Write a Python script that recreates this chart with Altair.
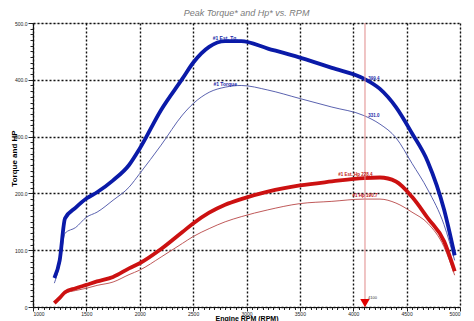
import altair as alt
import pandas as pd

rpm = [1200, 1250, 1300, 1400, 1500, 1600, 1750, 1900, 2000, 2200, 2400, 2500,
       2650, 2800, 2950, 3200, 3500, 3800, 4100, 4250, 4400, 4550, 4700, 4850, 4950]
est_tq = [51, 82, 156, 175, 191, 202, 223, 250, 279, 347, 402, 430,
          458, 468, 468, 455, 439, 421, 402, 384, 352, 306, 255, 172, 91]
torque = [42, 75, 130, 140, 158, 167, 188, 211, 235, 285, 338, 358,
          378, 387, 390, 382, 367, 352, 337, 322, 298, 253, 206, 145, 82]
est_hp = [7, 16, 26, 33, 39, 45, 53, 68, 77, 102, 132, 147,
          166, 180, 190, 203, 214, 221, 227, 228, 221, 194, 156, 116, 63]
hp = [9, 14, 24, 29, 33, 38, 44, 57, 65, 88, 112, 124,
      138, 150, 159, 171, 182, 186, 190, 190, 183, 167, 147, 106, 56]

series_names = ["#1 Torque", "#1 Hp", "#1 Est. Tq.", "#1 Est. Hp"]
series_colors = ["#5b63b0", "#c05a5a", "#0a1aa8", "#cc1111"]
series_widths = [1.0, 1.0, 3.8, 3.8]

cursor_rpm = 4110
cursor_label = "4100"

blue_labels = ["#1 Est. Tq.", "#1 Torque", "399.4", "331.0"]
blue_x = [2800, 2800, 4140, 4140]
blue_y = [474, 393, 402, 337]
blue_align = ["center", "center", "left", "left"]

red_labels = ["#1 Est. Hp 228.4", "#1 Hp 190.7"]
red_x = [4020, 4110]
red_y = [233, 196]

x_scale = alt.Scale(domain=[1000, 5000], nice=False, zero=False)
y_scale = alt.Scale(domain=[0, 500], nice=False)

grid_x = {"condition": {"test": "datum.value % 500 === 0", "value": 1}, "value": 0}
grid_y = {"condition": {"test": "datum.value % 100 === 0", "value": 1}, "value": 0}
tick_x = {"condition": {"test": "datum.value % 500 === 0", "value": 4}, "value": 2.5}
tick_y = {"condition": {"test": "datum.value % 100 === 0", "value": 5}, "value": 3}

x_axis = alt.Axis(
    title="Engine RPM (RPM)", values=list(range(1000, 5001, 50)), tickCount=1000,
    labelExpr="datum.value % 500 === 0 ? format(datum.value, 'd') : ''",
    labelFontSize=5, labelFont="Liberation Sans", labelColor="#222",
    titleFontSize=7, titleFontWeight="bold", titleFont="Liberation Sans",
    titleY=13.5, titleBaseline="alphabetic", tickSize=tick_x, tickColor="#222", labelPadding=0,
    domainColor="#111", domainWidth=1.2, gridOpacity=grid_x,
    gridColor="#111", gridDash=[2, 2], gridWidth=1.4, labelOverlap=False,
)
y_axis = alt.Axis(
    title="Torque and HP", values=list(range(0, 501, 10)), tickCount=1000,
    labelExpr="datum.value % 100 === 0 ? (datum.value === 0 ? '0' : format(datum.value, '.1f')) : ''",
    labelFontSize=5, labelFont="Liberation Sans", labelColor="#222",
    titleFontSize=8, titleFontWeight="bold", titleFont="Liberation Sans",
    titleX=-15, titleY=135, tickSize=tick_y, tickColor="#222", labelPadding=1,
    domainColor="#111", domainWidth=1.2, gridOpacity=grid_y,
    gridColor="#111", gridDash=[2, 2], gridWidth=1.4, labelOverlap=False,
)

layers = []
first = True
for name, vals, col, w in zip(series_names, [torque, hp, est_tq, est_hp], series_colors, series_widths):
    d = pd.DataFrame({"rpm": rpm, "value": vals, "series": name})
    if first:
        xe = alt.X("rpm:Q", scale=x_scale, axis=x_axis)
        ye = alt.Y("value:Q", scale=y_scale, axis=y_axis)
    else:
        xe = alt.X("rpm:Q", scale=x_scale)
        ye = alt.Y("value:Q", scale=y_scale)
    layers.append(
        alt.Chart(d).mark_line(interpolate="monotone", color=col, strokeWidth=w).encode(x=xe, y=ye)
    )
    first = False

cursor_df = pd.DataFrame({"rpm": [cursor_rpm], "y0": [0], "y1": [500], "tri": [7], "ly": [16], "lab": [cursor_label]})
rule = alt.Chart(cursor_df).mark_rule(color="#e08a8a", strokeWidth=1).encode(
    x=alt.X("rpm:Q", scale=x_scale), y=alt.Y("y0:Q", scale=y_scale), y2="y1:Q"
)
tri = alt.Chart(cursor_df).mark_point(shape="triangle-down", filled=True, color="#e00000", size=90, opacity=1).encode(
    x=alt.X("rpm:Q", scale=x_scale), y=alt.Y("tri:Q", scale=y_scale)
)
tri_lab = alt.Chart(cursor_df).mark_text(fontSize=4, color="#333", align="left", dx=3, font="Liberation Sans").encode(
    x=alt.X("rpm:Q", scale=x_scale), y=alt.Y("ly:Q", scale=y_scale), text="lab:N"
)

bl_df = pd.DataFrame({"x": blue_x, "y": blue_y, "t": blue_labels, "a": blue_align})
bl_c = alt.Chart(bl_df[bl_df.a == "center"]).mark_text(fontSize=5, fontWeight="bold", color="#1a2aa8", font="Liberation Sans").encode(
    x=alt.X("x:Q", scale=x_scale), y=alt.Y("y:Q", scale=y_scale), text="t:N"
)
bl_l = alt.Chart(bl_df[bl_df.a == "left"]).mark_text(fontSize=4.5, fontWeight="bold", color="#1a2aa8", align="left", font="Liberation Sans").encode(
    x=alt.X("x:Q", scale=x_scale), y=alt.Y("y:Q", scale=y_scale), text="t:N"
)
rl_df = pd.DataFrame({"x": red_x, "y": red_y, "t": red_labels})
rl = alt.Chart(rl_df).mark_text(fontSize=4.5, fontWeight="bold", color="#c01515", font="Liberation Sans").encode(
    x=alt.X("x:Q", scale=x_scale), y=alt.Y("y:Q", scale=y_scale), text="t:N"
)

chart = alt.layer(*layers, rule, tri, tri_lab, bl_c, bl_l, rl).properties(
    width=427, height=284,
    title=alt.TitleParams("Peak Torque* and Hp* vs. RPM", fontSize=9, fontStyle="italic",
                          color="#7a7a7a", font="Liberation Sans", fontWeight="normal", offset=3),
    autosize=alt.AutoSizeParams(type="none"),
    padding={"left": 25, "top": 15, "right": 6, "bottom": 20},
).configure_view(stroke=None).configure(background="white")

chart.save("out.html", embed_options={"renderer": "svg", "actions": False})
